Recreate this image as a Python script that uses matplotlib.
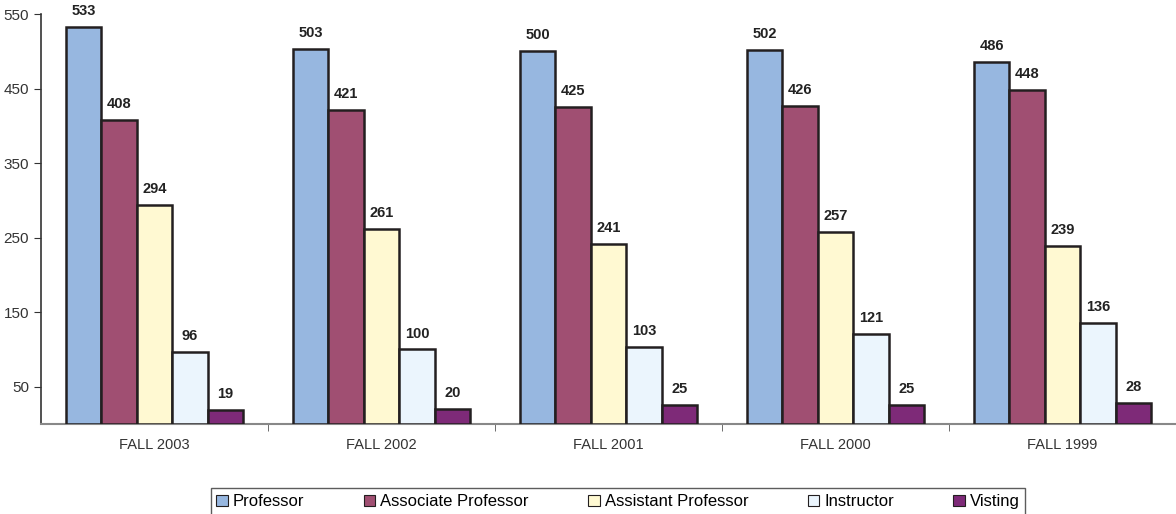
import matplotlib.pyplot as plt
import numpy as np

plt.rcParams['font.family'] = ['Liberation Sans', 'DejaVu Sans']

semesters = ['FALL 2003', 'FALL 2002', 'FALL 2001', 'FALL 2000', 'FALL 1999']
ranks = ['Professor', 'Associate Professor', 'Assistant Professor', 'Instructor', 'Visting']
professor = [533, 503, 500, 502, 486]
associate = [408, 421, 425, 426, 448]
assistant = [294, 261, 241, 257, 239]
instructor = [96, 100, 103, 121, 136]
visiting = [19, 20, 25, 25, 28]
colors = ['#97B7E0', '#A04F72', '#FFF9D2', '#EBF5FD', '#7E2A78']

series = [professor, associate, assistant, instructor, visiting]

fig = plt.figure(figsize=(11.76, 5.14), dpi=100)
ax = fig.add_axes([41 / 1176, 1 - 424 / 514, 1 - 41 / 1176, (424 - 14) / 514])

x = np.arange(len(semesters))
w = 0.156
for i, (vals, name, c) in enumerate(zip(series, ranks, colors)):
    pos = x + (i - 2) * w
    ax.bar(pos, vals, w, color=c, edgecolor='#231F20', linewidth=1.8, label=name, zorder=3)
    for px, v in zip(pos, vals):
        ax.text(px, v + 12, str(v), ha='center', va='bottom', fontsize=10.5,
                fontweight='bold', color='#222222')

ax.set_xlim(-0.5, 4.5)
ax.set_ylim(0, 550)
ax.set_yticks([50, 150, 250, 350, 450, 550])
ax.set_xticks(x)
ax.set_xticklabels(semesters)
ax.set_xticks(np.arange(0.5, 4.5, 1), minor=True)
ax.tick_params(axis='x', which='major', length=0, pad=10, labelsize=10.5, labelcolor='#333333')
ax.tick_params(axis='x', which='minor', length=5, color='#555555', direction='out')
ax.tick_params(axis='y', length=5, labelsize=11, labelcolor='#333333', color='#333333')

for s in ['top', 'right']:
    ax.spines[s].set_visible(False)
ax.spines['left'].set_color('#333333')
ax.spines['left'].set_linewidth(1.2)
ax.spines['bottom'].set_color('#888888')
ax.spines['bottom'].set_linewidth(1.5)

leg = fig.legend(loc='lower center', bbox_to_anchor=(618 / 1176, -0.002), ncol=5,
                 fontsize=12, frameon=True, fancybox=False, handlelength=0.7,
                 handleheight=0.7, handletextpad=0.3, columnspacing=3.55,
                 borderpad=0.35, borderaxespad=0, edgecolor='#333333')
leg.get_frame().set_linewidth(1.0)
for h in leg.legend_handles:
    h.set_linewidth(0.8)

fig.savefig('out.png', dpi=100)
